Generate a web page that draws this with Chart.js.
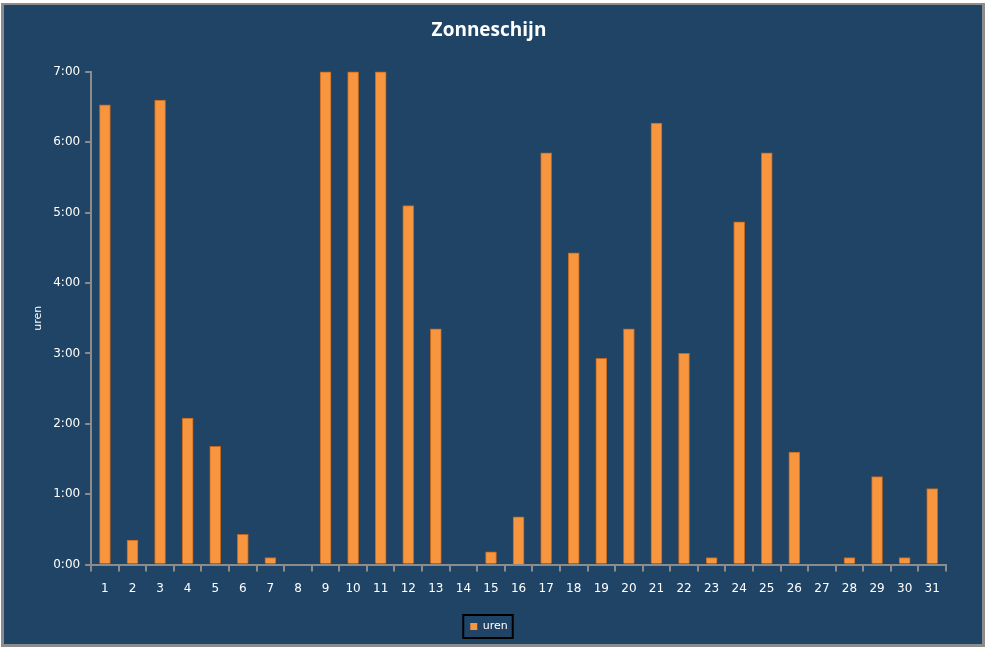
<!DOCTYPE html>
<html>
<head>
<meta charset="utf-8">
<script src="https://cdn.jsdelivr.net/npm/chart.js@4/dist/chart.umd.min.js"></script>
<style>
    html, body { margin: 0; padding: 0; background: #ffffff; }
    #kader {
        position: absolute; left: 1px; top: 3px;
        width: 978px; height: 639px;
        border: 3px solid #8c8c8c; border-top-width: 2px;
        background: #1f4466;
    }
    #grafiek { display: block; }
</style>
</head>
<body>
<div id="kader"><canvas id="grafiek" width="978" height="639"></canvas></div>
<script>
// Dagen van de maand
const dagen = ['1','2','3','4','5','6','7','8','9','10','11','12','13','14','15','16',
               '17','18','19','20','21','22','23','24','25','26','27','28','29','30','31'];

// Zonneschijn per dag in uren (decimaal)
const uren = [6.53, 0.35, 6.6, 2.08, 1.68, 0.43, 0.1, 0, 7.0, 7.0, 7.0, 5.1, 3.35, 0, 0.18, 0.68,
              5.85, 4.43, 2.93, 3.35, 6.27, 3.0, 0.1, 4.87, 5.85, 1.6, 0, 0.1, 1.25, 0.1, 1.08];

// Tick labels op de y-as
const yTicks = ['0:00', '1:00', '2:00', '3:00', '4:00', '5:00', '6:00', '7:00'];

const grijs = '#8c8c8c';

// Zwart kader rond de legenda
const legendaKader = {
    id: 'legendaKader',
    afterDraw(chart) {
        const lg = chart.legend;
        if (!lg || !lg.legendHitBoxes.length) return;
        const hb = lg.legendHitBoxes[0];
        const c = chart.ctx;
        c.save();
        c.strokeStyle = '#000000';
        c.lineWidth = 2;
        c.strokeRect(hb.left - 7, hb.top - 6, hb.width + 12, hb.height + 12);
        c.restore();
    }
};

// Verloop op de staven (donkere randen, licht midden)
function staafKleur(context) {
    const chart = context.chart;
    const el = context.element;
    if (!el || el.x === undefined || isNaN(el.x)) return '#f7963f';
    const w = el.width || 11;
    const g = chart.ctx.createLinearGradient(el.x - w / 2, 0, el.x + w / 2, 0);
    g.addColorStop(0, '#d2772b');
    g.addColorStop(0.35, '#ffa24e');
    g.addColorStop(0.7, '#f99a45');
    g.addColorStop(1, '#c96d22');
    return g;
}

new Chart(document.getElementById('grafiek'), {
    type: 'bar',
    data: {
        labels: dagen,
        datasets: [{
            label: 'uren',
            data: uren,
            backgroundColor: staafKleur,
            borderColor: '#c0661f',
            borderWidth: 1,
            barThickness: 11,
            clip: false
        }]
    },
    options: {
        responsive: false,
        animation: false,
        devicePixelRatio: 1,
        layout: { padding: { left: 28, right: 36, top: 0, bottom: 2 } },
        plugins: {
            title: {
                display: true,
                text: 'Zonneschijn',
                color: '#ffffff',
                font: { family: 'Open Sans', size: 19, weight: 'bold' },
                padding: { top: 14, bottom: 30 }
            },
            legend: {
                position: 'bottom',
                labels: {
                    color: '#ffffff',
                    boxWidth: 7,
                    boxHeight: 7,
                    padding: 15,
                    font: { family: 'DejaVu Sans', size: 11 },
                    generateLabels: () => [{
                        text: 'uren', fillStyle: '#f7963f', strokeStyle: '#f7963f',
                        lineWidth: 0, fontColor: '#ffffff', datasetIndex: 0
                    }]
                }
            },
            tooltip: { enabled: false }
        },
        scales: {
            x: {
                grid: { display: true, drawOnChartArea: false, offset: true, color: grijs, lineWidth: 2, tickLength: 7 },
                border: { color: grijs, width: 2 },
                ticks: { color: '#ffffff', font: { family: 'DejaVu Sans', size: 12 }, padding: 10, maxRotation: 0, autoSkip: false }
            },
            y: {
                min: 0,
                max: 7,
                grid: { display: true, drawOnChartArea: false, color: grijs, lineWidth: 2, tickLength: 6 },
                border: { color: grijs, width: 2, dash: [2, 1] },
                ticks: {
                    stepSize: 1,
                    color: '#ffffff',
                    font: { family: 'DejaVu Sans', size: 12 },
                    padding: 5,
                    callback: (v) => yTicks[v]
                },
                title: {
                    display: true,
                    text: 'uren',
                    color: '#ffffff',
                    font: { family: 'DejaVu Sans', size: 11 },
                    padding: { top: 0, bottom: 3 }
                }
            }
        }
    },
    plugins: [legendaKader]
});
</script>
</body>
</html>
